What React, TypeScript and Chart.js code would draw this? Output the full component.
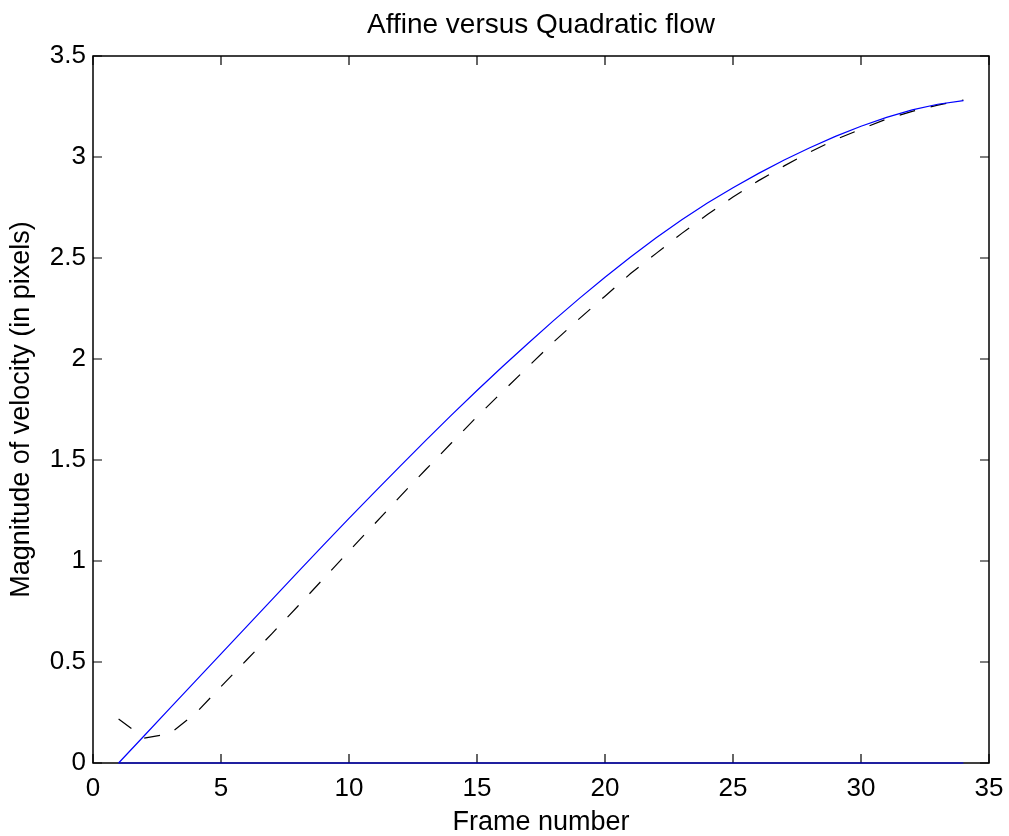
import React, { useEffect, useRef } from "react";
import { Chart, registerables } from "chart.js";

Chart.register(...registerables);

const FONT = '"Liberation Sans", Arial, Helvetica, sans-serif';

const titleText = "Affine versus Quadratic flow";
const xLabel = "Frame number";
const yLabel = "Magnitude of velocity (in pixels)";

const frames = [
  1, 2, 3, 4, 5, 6, 7, 8, 9, 10, 11, 12, 13, 14, 15, 16, 17,
  18, 19, 20, 21, 22, 23, 24, 25, 26, 27, 28, 29, 30, 31, 32, 33, 34,
];

// solid blue curve
const affineVelocity = [
  0, 0.135, 0.27, 0.405, 0.54, 0.675, 0.81, 0.945, 1.079, 1.211, 1.341, 1.47,
  1.597, 1.722, 1.844, 1.963, 2.078, 2.191, 2.3, 2.405, 2.505, 2.6, 2.689,
  2.772, 2.848, 2.919, 2.985, 3.046, 3.102, 3.152, 3.196, 3.233, 3.261, 3.279,
];

// dashed black curve
const quadraticVelocity = [
  0.218, 0.123, 0.145, 0.245, 0.378, 0.51, 0.642, 0.776, 0.912, 1.049, 1.184,
  1.32, 1.453, 1.584, 1.715, 1.839, 1.962, 2.085, 2.2, 2.311, 2.423, 2.523,
  2.622, 2.715, 2.802, 2.883, 2.956, 3.024, 3.086, 3.138, 3.188, 3.226, 3.257,
  3.282,
];

// blue baseline at zero
const baselineFrames = [1, 34];
const baselineValues = [0, 0];

const xTicks = [0, 5, 10, 15, 20, 25, 30, 35];
const xTickLabels = ["0", "5", "10", "15", "20", "25", "30", "35"];
const yTicks = [0, 0.5, 1, 1.5, 2, 2.5, 3, 3.5];
const yTickLabels = ["0", "0.5", "1", "1.5", "2", "2.5", "3", "3.5"];

const framePlugin = {
  id: "matlabFrame",
  beforeDatasetsDraw(chart: any) {
    const { ctx, chartArea, scales } = chart;
    const { left, right, top, bottom } = chartArea;
    const x = scales.x;
    const y = scales.y;
    const len = 9;
    ctx.save();
    ctx.strokeStyle = "#000";
    ctx.lineWidth = 1.5;
    ctx.strokeRect(left, top, right - left, bottom - top);
    ctx.lineWidth = 1.2;
    ctx.beginPath();
    xTicks.forEach((v) => {
      const px = x.getPixelForValue(v);
      ctx.moveTo(px, bottom);
      ctx.lineTo(px, bottom - len);
      ctx.moveTo(px, top);
      ctx.lineTo(px, top + len);
    });
    yTicks.forEach((v) => {
      const py = y.getPixelForValue(v);
      ctx.moveTo(left, py);
      ctx.lineTo(left + len, py);
      ctx.moveTo(right, py);
      ctx.lineTo(right - len, py);
    });
    ctx.stroke();
    ctx.restore();
  },
};

export default function App() {
  const canvasRef = useRef<HTMLCanvasElement | null>(null);

  useEffect(() => {
    const canvas = canvasRef.current;
    if (!canvas) return;
    const chart = new Chart(canvas, {
      type: "line",
      data: {
        datasets: [
          {
            label: "Affine",
            data: frames.map((f, i) => ({ x: f, y: affineVelocity[i] })),
            borderColor: "#0000ff",
            borderWidth: 1.2,
            pointRadius: 0,
            fill: false,
            tension: 0,
            clip: 4,
          },
          {
            label: "Quadratic",
            data: frames.map((f, i) => ({ x: f, y: quadraticVelocity[i] })),
            borderColor: "#000000",
            borderWidth: 1.2,
            borderDash: [16, 16],
            pointRadius: 0,
            fill: false,
            tension: 0,
            clip: 4,
          },
          {
            label: "Zero",
            data: baselineFrames.map((f, i) => ({ x: f, y: baselineValues[i] })),
            borderColor: "#0000ff",
            borderWidth: 1.2,
            pointRadius: 0,
            fill: false,
            tension: 0,
            clip: 4,
          },
        ],
      },
      options: {
        animation: false,
        responsive: false,
        devicePixelRatio: 1,
        events: [],
        layout: { padding: { left: 0, right: 20, top: 0, bottom: 0 } },
        plugins: {
          legend: { display: false },
          tooltip: { enabled: false },
          title: { display: false },
        },
        scales: {
          x: {
            type: "linear",
            position: "bottom",
            min: 0,
            max: 35,
            grid: { display: false, drawTicks: false },
            border: { display: false },
            afterBuildTicks: (scale: any) => {
              scale.ticks = xTicks.map((v) => ({ value: v }));
            },
            afterFit: (scale: any) => {
              scale.height = 73;
              scale.paddingLeft = 0;
              scale.paddingRight = 0;
            },
            ticks: {
              color: "#000",
              font: { family: FONT, size: 26 },
              padding: 10,
              maxRotation: 0,
              autoSkip: false,
              callback: (_v: any, i: number) => xTickLabels[i],
            },
            title: {
              display: true,
              text: xLabel,
              color: "#000",
              font: { family: FONT, size: 27, lineHeight: 1 },
              padding: { top: 0, bottom: 0 },
            },
          },
          x2: {
            type: "linear",
            position: "top",
            min: 0,
            max: 35,
            grid: { display: false, drawTicks: false },
            border: { display: false },
            ticks: { display: false },
            afterFit: (scale: any) => {
              scale.height = 56;
              scale.paddingLeft = 0;
              scale.paddingRight = 0;
            },
            title: {
              display: true,
              text: titleText,
              color: "#000",
              font: { family: FONT, size: 28, lineHeight: 1 },
              padding: { top: 11, bottom: 0 },
            },
          },
          y: {
            type: "linear",
            position: "left",
            min: 0,
            max: 3.5,
            grid: { display: false, drawTicks: false },
            border: { display: false },
            afterBuildTicks: (scale: any) => {
              scale.ticks = yTicks.map((v) => ({ value: v }));
            },
            afterFit: (scale: any) => {
              scale.width = 93;
            },
            ticks: {
              color: "#000",
              font: { family: FONT, size: 26 },
              padding: 7,
              autoSkip: false,
              callback: (_v: any, i: number) => yTickLabels[i],
            },
            title: {
              display: true,
              text: yLabel,
              color: "#000",
              font: { family: FONT, size: 27, lineHeight: 1 },
              padding: { top: 8, bottom: 0 },
            },
          },
        },
      },
      plugins: [framePlugin],
    });
    return () => chart.destroy();
  }, []);

  return (
    <div style={{ position: "absolute", left: 0, top: 0, width: 1009, height: 836, background: "#fff" }}>
      <canvas ref={canvasRef} width={1009} height={836} style={{ display: "block" }} />
    </div>
  );
}
